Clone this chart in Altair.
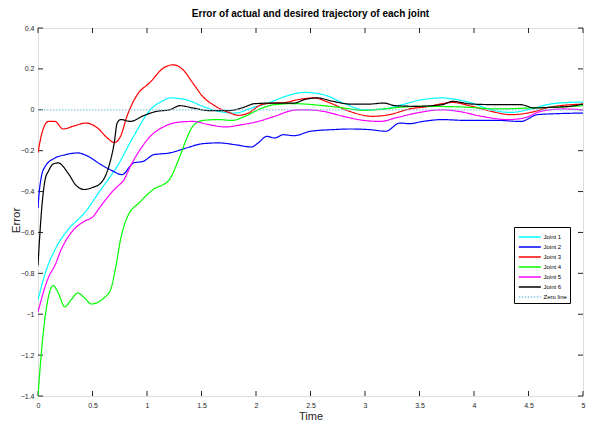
import altair as alt
import pandas as pd

# ---------------- data ----------------
series_names = ["Joint 1", "Joint 2", "Joint 3", "Joint 4", "Joint 5", "Joint 6", "Zero line"]
series_colors = ["#00ffff", "#0000ff", "#ff0000", "#00ff00", "#ff00ff", "#000000", "#86c5e3"]

j1_x = [0, 0.066, 0.156, 0.276, 0.426, 0.577, 0.726, 0.877, 1.03, 1.15, 1.21, 1.36, 1.51, 1.66, 1.81, 1.96, 2.11, 2.23, 2.35, 2.44, 2.62, 2.80, 2.99, 3.17, 3.34, 3.52, 3.71, 3.80, 3.98, 4.16, 4.34, 4.52, 4.70, 4.88, 5.0]
j1_y = [-0.93, -0.80, -0.684, -0.586, -0.505, -0.39, -0.277, -0.13, 0.0, 0.045, 0.058, 0.049, 0.017, -0.008, -0.016, 0.009, 0.033, 0.058, 0.078, 0.085, 0.074, 0.033, 0.0, 0.004, 0.025, 0.049, 0.058, 0.053, 0.033, 0.0, -0.013, 0.004, 0.028, 0.036, 0.038]

j2_x = [0, 0.01, 0.03, 0.066, 0.156, 0.25, 0.366, 0.45, 0.577, 0.67, 0.77, 0.877, 0.967, 1.06, 1.21, 1.36, 1.51, 1.66, 1.81, 1.96, 2.02, 2.10, 2.17, 2.25, 2.35, 2.50, 2.71, 2.86, 3.04, 3.19, 3.32, 3.41, 3.53, 3.71, 3.92, 4.22, 4.43, 4.58, 4.76, 5.0]
j2_y = [-0.48, -0.41, -0.33, -0.277, -0.236, -0.22, -0.211, -0.225, -0.268, -0.295, -0.317, -0.26, -0.252, -0.22, -0.211, -0.187, -0.166, -0.162, -0.171, -0.182, -0.162, -0.13, -0.138, -0.122, -0.127, -0.105, -0.097, -0.094, -0.097, -0.105, -0.065, -0.068, -0.057, -0.048, -0.052, -0.052, -0.057, -0.024, -0.019, -0.016]

j3_x = [0, 0.036, 0.096, 0.156, 0.23, 0.336, 0.44, 0.546, 0.636, 0.70, 0.757, 0.816, 0.906, 1.03, 1.15, 1.24, 1.33, 1.42, 1.51, 1.63, 1.75, 1.84, 1.93, 2.05, 2.17, 2.26, 2.38, 2.53, 2.68, 2.86, 3.07, 3.22, 3.41, 3.59, 3.71, 3.80, 3.98, 4.16, 4.34, 4.52, 4.70, 5.0]
j3_y = [-0.21, -0.114, -0.057, -0.057, -0.094, -0.078, -0.065, -0.089, -0.138, -0.16, -0.13, -0.032, 0.07, 0.135, 0.204, 0.22, 0.196, 0.131, 0.066, 0.017, -0.013, -0.027, -0.016, 0.025, 0.033, 0.035, 0.049, 0.058, 0.033, -0.008, -0.032, -0.024, 0.004, 0.017, 0.03, 0.036, 0.017, -0.008, -0.024, -0.013, 0.013, 0.028]

j4_x = [0, 0.036, 0.08, 0.14, 0.186, 0.246, 0.306, 0.366, 0.426, 0.49, 0.606, 0.666, 0.71, 0.757, 0.816, 0.937, 1.057, 1.2, 1.30, 1.36, 1.42, 1.51, 1.66, 1.78, 1.90, 2.02, 2.17, 2.35, 2.62, 2.80, 2.99, 3.17, 3.34, 3.52, 3.92, 4.22, 4.52, 4.76, 5.0]
j4_y = [-1.40, -1.157, -0.96, -0.86, -0.896, -0.964, -0.928, -0.896, -0.92, -0.95, -0.92, -0.88, -0.78, -0.635, -0.529, -0.45, -0.39, -0.345, -0.23, -0.146, -0.081, -0.052, -0.048, -0.052, -0.032, 0.0, 0.025, 0.03, 0.02, 0.009, -0.003, 0.004, 0.013, 0.017, 0.013, 0.004, 0.009, 0.013, 0.02]

j5_x = [0, 0.066, 0.096, 0.156, 0.216, 0.306, 0.426, 0.50, 0.577, 0.70, 0.74, 0.786, 0.847, 0.937, 1.03, 1.15, 1.27, 1.42, 1.57, 1.72, 1.87, 2.02, 2.17, 2.35, 2.44, 2.62, 2.80, 2.99, 3.14, 3.28, 3.47, 3.71, 3.86, 4.07, 4.31, 4.46, 4.61, 4.82, 5.0]
j5_y = [-0.99, -0.864, -0.82, -0.76, -0.68, -0.60, -0.545, -0.525, -0.47, -0.39, -0.37, -0.345, -0.277, -0.195, -0.13, -0.084, -0.062, -0.057, -0.073, -0.084, -0.073, -0.057, -0.032, -0.002, 0.0, -0.008, -0.032, -0.052, -0.057, -0.04, -0.016, 0.0, -0.008, -0.032, -0.048, -0.04, -0.008, 0.004, 0.0]

j6_x = [0, 0.036, 0.066, 0.096, 0.14, 0.186, 0.276, 0.35, 0.426, 0.50, 0.577, 0.65, 0.70, 0.726, 0.76, 0.847, 0.967, 1.087, 1.21, 1.30, 1.42, 1.57, 1.75, 1.87, 1.99, 2.17, 2.35, 2.44, 2.56, 2.71, 2.86, 3.04, 3.17, 3.28, 3.47, 3.71, 3.80, 3.98, 4.22, 4.43, 4.55, 4.70, 4.88, 5.0]
j6_y = [-0.76, -0.47, -0.34, -0.30, -0.265, -0.26, -0.31, -0.37, -0.39, -0.38, -0.358, -0.277, -0.16, -0.065, -0.048, -0.057, -0.029, -0.008, 0.0, 0.02, 0.009, -0.004, -0.004, 0.009, 0.03, 0.033, 0.033, 0.049, 0.058, 0.041, 0.028, 0.028, 0.033, 0.02, 0.017, 0.025, 0.041, 0.028, 0.025, 0.025, 0.009, 0.012, 0.017, 0.028]

zero_x = [0, 5]
zero_y = [0, 0]

x_ticks = [0, 0.5, 1, 1.5, 2, 2.5, 3, 3.5, 4, 4.5, 5]
y_ticks = [-1.4, -1.2, -1, -0.8, -0.6, -0.4, -0.2, 0, 0.2, 0.4]

# ---------------- build tables ----------------
rows = []
for name, xs, ys in zip(series_names,
                        [j1_x, j2_x, j3_x, j4_x, j5_x, j6_x, zero_x],
                        [j1_y, j2_y, j3_y, j4_y, j5_y, j6_y, zero_y]):
    for i, (a, b) in enumerate(zip(xs, ys)):
        rows.append({"series": name, "t": a, "e": b, "i": i})
df = pd.DataFrame(rows)

W, H = 545, 368
FONT = "Liberation Sans, Arial"
xscale = alt.Scale(domain=[0, 5], nice=False, zero=False)
yscale = alt.Scale(domain=[-1.4, 0.4], nice=False, zero=False)

legend_common = dict(title=None, orient="none", legendX=476, legendY=199,
                     symbolType="M-0.9,0L2.9,0", symbolSize=135, symbolStrokeWidth=1.5,
                     labelFont=FONT, labelFontSize=6, labelColor="#000000",
                     strokeColor="#000000", fillColor="#ffffff", padding=3,
                     rowPadding=0, labelOffset=12.5, cornerRadius=0)

lines = alt.Chart(df).mark_line(strokeWidth=1.2, interpolate="monotone", clip=True).encode(
    x=alt.X("t:Q", scale=xscale,
            axis=alt.Axis(values=x_ticks, format="~g", title="Time", tickSize=0, domain=False,
                          grid=False, labelFont=FONT, labelFontSize=7, labelColor="#262626",
                          labelPadding=5, titleFont=FONT, titleFontSize=11,
                          titleFontWeight="normal", titleColor="#262626", titlePadding=2,
                          labelFlush=False)),
    y=alt.Y("e:Q", scale=yscale,
            axis=alt.Axis(values=y_ticks, format="~g", title="Error", tickSize=0, domain=False,
                          grid=False, labelFont=FONT, labelFontSize=7, labelColor="#262626",
                          labelPadding=4, titleFont=FONT, titleFontSize=11.5,
                          titleFontWeight="normal", titleColor="#262626",
                          titleX=-17, titleY=192, titleAlign="center",
                          labelFlush=False)),
    color=alt.Color("series:N", scale=alt.Scale(domain=series_names, range=series_colors),
                    legend=alt.Legend(**legend_common)),
    strokeDash=alt.StrokeDash("series:N",
                              scale=alt.Scale(domain=series_names,
                                              range=[[1, 0]] * 6 + [[1.5, 1.5]]),
                              legend=alt.Legend(**legend_common)),
    order=alt.Order("i:Q"),
)

xt = pd.DataFrame({"t": x_ticks})
yt = pd.DataFrame({"e": y_ticks})
tick_col = "#262626"
bottom_ticks = alt.Chart(xt).mark_rule(color=tick_col, strokeWidth=1).encode(
    x=alt.X("t:Q", scale=xscale), y=alt.value(H), y2=alt.value(H - 5))
top_ticks = alt.Chart(xt).mark_rule(color=tick_col, strokeWidth=1).encode(
    x=alt.X("t:Q", scale=xscale), y=alt.value(0), y2=alt.value(5))
left_ticks = alt.Chart(yt).mark_rule(color=tick_col, strokeWidth=1).encode(
    y=alt.Y("e:Q", scale=yscale), x=alt.value(0), x2=alt.value(5))
right_ticks = alt.Chart(yt).mark_rule(color=tick_col, strokeWidth=1).encode(
    y=alt.Y("e:Q", scale=yscale), x=alt.value(W), x2=alt.value(W - 5))

chart = alt.layer(bottom_ticks, top_ticks, left_ticks, right_ticks, lines).properties(
    width=W, height=H,
    title=alt.TitleParams("Error of actual and desired trajectory of each joint",
                          font=FONT, fontSize=10, fontWeight="bold", color="#000000",
                          anchor="middle", offset=5),
    padding={"left": 30, "top": 20, "right": 3, "bottom": 24},
    autosize=alt.AutoSizeParams(type="none"),
).configure_view(stroke="#262626", strokeWidth=1).configure(background="#ffffff")

chart.save("out.html", embed_options={"renderer": "svg", "actions": False})
